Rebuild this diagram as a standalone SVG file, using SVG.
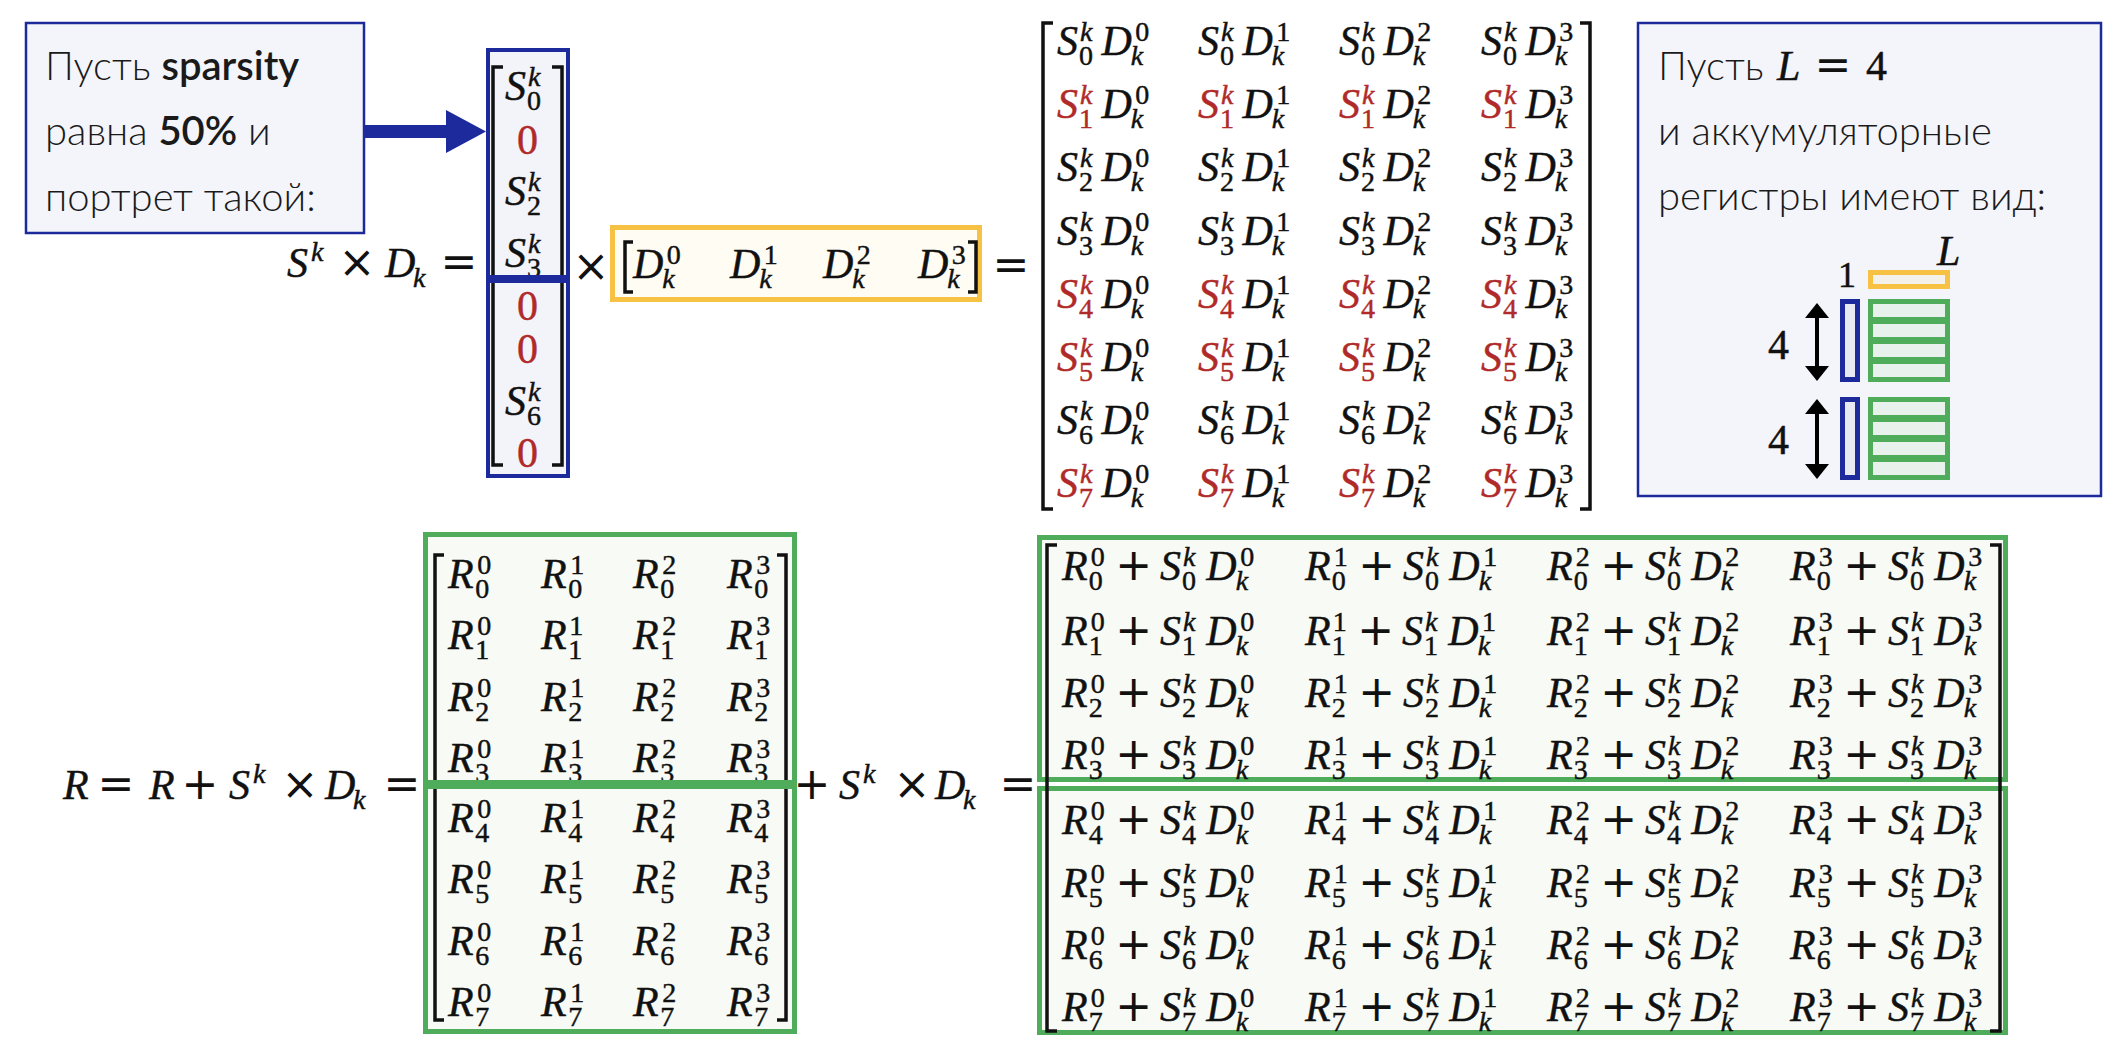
<svg xmlns="http://www.w3.org/2000/svg" width="2118" height="1052" viewBox="0 0 2118 1052">
<style>
.m{font-family:"Liberation Serif",serif;font-style:italic;font-size:42px;fill:#111;stroke:#111;stroke-width:0.45}
.s{font-size:28px;font-style:normal}
.k{font-style:italic}
.u{font-style:normal}
.op{font-family:"DejaVu Sans",sans-serif;font-style:normal;font-size:44px;stroke-width:0}
.c{text-anchor:middle}
.r{fill:#b02a2a;stroke:#b02a2a}
.b{fill:#111;stroke:#111}
.t{font-family:Lato,"Open Sans",sans-serif;font-size:40px;font-weight:300;fill:#1a1a1a}
.tb{font-weight:600}
.br{fill:none;stroke:#111;stroke-width:3.5}
.note{fill:#f4f5fa;stroke:#1d2a9b;stroke-width:2.5}
.blue{fill:#f3f3fa;stroke:#1d2a9b;stroke-width:4}
.yel{fill:#fffcf3;stroke:#f7c143;stroke-width:5}
.grn{fill:#f8fbf5;stroke:#4eac5b;stroke-width:5}
.cell{fill:#e9f1ec;stroke:none}
</style>
<rect width="2118" height="1052" fill="#fff"/>

<g id="note-left">
<rect class="note" x="26" y="23" width="338" height="210"/>
<text class="t" x="45" y="80">Пусть <tspan class="tb">sparsity</tspan></text>
<text class="t" x="45" y="145">равна <tspan class="tb">50%</tspan> и</text>
<text class="t" x="45" y="211">портрет такой:</text>
</g>

<g id="connectors">
<polygon points="365,125 446,125 446,110 486,131.5 446,153 446,138 365,138" fill="#1d2a9b"/>
</g>

<g id="eq-top" class="m">
<text y="277"><tspan x="287">S</tspan><tspan class="s k" x="311" dy="-16">k</tspan><tspan class="op c" x="357" dy="16">×</tspan><tspan x="385">D</tspan><tspan class="s k" x="413" dy="10">k</tspan><tspan class="op c" x="459" dy="-10">=</tspan></text>
<text class="op c" x="591" y="281">×</text>
<text class="op c" x="1011" y="280">=</text>
</g>

<g id="col-vector" class="m">
<rect class="blue" x="488" y="50" width="80" height="426"/>
<path class="br" d="M503,67 H493 V465 H503"/>
<path class="br" d="M552,67 H562 V465 H552"/>
<text x="505" y="100">S<tspan class="s" dx="1" dy="10">0</tspan><tspan class="s k" dx="-13" dy="-24">k</tspan></text>
<text class="r u" x="517" y="154">0</text>
<text x="505" y="205">S<tspan class="s" dx="1" dy="10">2</tspan><tspan class="s k" dx="-13" dy="-24">k</tspan></text>
<text x="505" y="267">S<tspan class="s" dx="1" dy="10">3</tspan><tspan class="s k" dx="-13" dy="-24">k</tspan></text>
<text class="r u" x="517" y="320">0</text>
<text class="r u" x="517" y="363">0</text>
<text x="505" y="415">S<tspan class="s" dx="1" dy="10">6</tspan><tspan class="s k" dx="-13" dy="-24">k</tspan></text>
<text class="r u" x="517" y="467">0</text>
<line x1="486" y1="279" x2="570" y2="279" stroke="#1d2a9b" stroke-width="8"/>
</g>

<g id="row-vector" class="m">
<rect class="yel" x="612.5" y="227.5" width="367" height="72"/>
<path class="br" d="M633,242 H625 V292 H633"/>
<path class="br" d="M968,242 H976 V292 H968"/>
<text x="633" y="278">D<tspan class="s k" dx="-1" dy="10">k</tspan><tspan class="s" dx="-8" dy="-24">0</tspan></text>
<text x="730" y="278">D<tspan class="s k" dx="-1" dy="10">k</tspan><tspan class="s" dx="-8" dy="-24">1</tspan></text>
<text x="823" y="278">D<tspan class="s k" dx="-1" dy="10">k</tspan><tspan class="s" dx="-8" dy="-24">2</tspan></text>
<text x="918" y="278">D<tspan class="s k" dx="-1" dy="10">k</tspan><tspan class="s" dx="-8" dy="-24">3</tspan></text>
</g>

<g id="product-matrix" class="m">
<path class="br" d="M1053,23 H1043 V509 H1053"/>
<path class="br" d="M1580,23 H1590 V509 H1580"/>
<text x="1057" y="55">S<tspan class="s" dx="1" dy="10">0</tspan><tspan class="s k" dx="-13" dy="-24">k</tspan><tspan dx="9" dy="14">D</tspan><tspan class="s k" dx="-1" dy="10">k</tspan><tspan class="s" dx="-8" dy="-24">0</tspan></text>
<text x="1198" y="55">S<tspan class="s" dx="1" dy="10">0</tspan><tspan class="s k" dx="-13" dy="-24">k</tspan><tspan dx="9" dy="14">D</tspan><tspan class="s k" dx="-1" dy="10">k</tspan><tspan class="s" dx="-8" dy="-24">1</tspan></text>
<text x="1339" y="55">S<tspan class="s" dx="1" dy="10">0</tspan><tspan class="s k" dx="-13" dy="-24">k</tspan><tspan dx="9" dy="14">D</tspan><tspan class="s k" dx="-1" dy="10">k</tspan><tspan class="s" dx="-8" dy="-24">2</tspan></text>
<text x="1481" y="55">S<tspan class="s" dx="1" dy="10">0</tspan><tspan class="s k" dx="-13" dy="-24">k</tspan><tspan dx="9" dy="14">D</tspan><tspan class="s k" dx="-1" dy="10">k</tspan><tspan class="s" dx="-8" dy="-24">3</tspan></text>

<text class="r" x="1057" y="118">S<tspan class="s" dx="1" dy="10">1</tspan><tspan class="s k" dx="-13" dy="-24">k</tspan><tspan class="b" dx="9" dy="14">D</tspan><tspan class="s k b" dx="-1" dy="10">k</tspan><tspan class="s b" dx="-8" dy="-24">0</tspan></text>
<text class="r" x="1198" y="118">S<tspan class="s" dx="1" dy="10">1</tspan><tspan class="s k" dx="-13" dy="-24">k</tspan><tspan class="b" dx="9" dy="14">D</tspan><tspan class="s k b" dx="-1" dy="10">k</tspan><tspan class="s b" dx="-8" dy="-24">1</tspan></text>
<text class="r" x="1339" y="118">S<tspan class="s" dx="1" dy="10">1</tspan><tspan class="s k" dx="-13" dy="-24">k</tspan><tspan class="b" dx="9" dy="14">D</tspan><tspan class="s k b" dx="-1" dy="10">k</tspan><tspan class="s b" dx="-8" dy="-24">2</tspan></text>
<text class="r" x="1481" y="118">S<tspan class="s" dx="1" dy="10">1</tspan><tspan class="s k" dx="-13" dy="-24">k</tspan><tspan class="b" dx="9" dy="14">D</tspan><tspan class="s k b" dx="-1" dy="10">k</tspan><tspan class="s b" dx="-8" dy="-24">3</tspan></text>

<text x="1057" y="181">S<tspan class="s" dx="1" dy="10">2</tspan><tspan class="s k" dx="-13" dy="-24">k</tspan><tspan dx="9" dy="14">D</tspan><tspan class="s k" dx="-1" dy="10">k</tspan><tspan class="s" dx="-8" dy="-24">0</tspan></text>
<text x="1198" y="181">S<tspan class="s" dx="1" dy="10">2</tspan><tspan class="s k" dx="-13" dy="-24">k</tspan><tspan dx="9" dy="14">D</tspan><tspan class="s k" dx="-1" dy="10">k</tspan><tspan class="s" dx="-8" dy="-24">1</tspan></text>
<text x="1339" y="181">S<tspan class="s" dx="1" dy="10">2</tspan><tspan class="s k" dx="-13" dy="-24">k</tspan><tspan dx="9" dy="14">D</tspan><tspan class="s k" dx="-1" dy="10">k</tspan><tspan class="s" dx="-8" dy="-24">2</tspan></text>
<text x="1481" y="181">S<tspan class="s" dx="1" dy="10">2</tspan><tspan class="s k" dx="-13" dy="-24">k</tspan><tspan dx="9" dy="14">D</tspan><tspan class="s k" dx="-1" dy="10">k</tspan><tspan class="s" dx="-8" dy="-24">3</tspan></text>

<text x="1057" y="245">S<tspan class="s" dx="1" dy="10">3</tspan><tspan class="s k" dx="-13" dy="-24">k</tspan><tspan dx="9" dy="14">D</tspan><tspan class="s k" dx="-1" dy="10">k</tspan><tspan class="s" dx="-8" dy="-24">0</tspan></text>
<text x="1198" y="245">S<tspan class="s" dx="1" dy="10">3</tspan><tspan class="s k" dx="-13" dy="-24">k</tspan><tspan dx="9" dy="14">D</tspan><tspan class="s k" dx="-1" dy="10">k</tspan><tspan class="s" dx="-8" dy="-24">1</tspan></text>
<text x="1339" y="245">S<tspan class="s" dx="1" dy="10">3</tspan><tspan class="s k" dx="-13" dy="-24">k</tspan><tspan dx="9" dy="14">D</tspan><tspan class="s k" dx="-1" dy="10">k</tspan><tspan class="s" dx="-8" dy="-24">2</tspan></text>
<text x="1481" y="245">S<tspan class="s" dx="1" dy="10">3</tspan><tspan class="s k" dx="-13" dy="-24">k</tspan><tspan dx="9" dy="14">D</tspan><tspan class="s k" dx="-1" dy="10">k</tspan><tspan class="s" dx="-8" dy="-24">3</tspan></text>

<text class="r" x="1057" y="308">S<tspan class="s" dx="1" dy="10">4</tspan><tspan class="s k" dx="-13" dy="-24">k</tspan><tspan class="b" dx="9" dy="14">D</tspan><tspan class="s k b" dx="-1" dy="10">k</tspan><tspan class="s b" dx="-8" dy="-24">0</tspan></text>
<text class="r" x="1198" y="308">S<tspan class="s" dx="1" dy="10">4</tspan><tspan class="s k" dx="-13" dy="-24">k</tspan><tspan class="b" dx="9" dy="14">D</tspan><tspan class="s k b" dx="-1" dy="10">k</tspan><tspan class="s b" dx="-8" dy="-24">1</tspan></text>
<text class="r" x="1339" y="308">S<tspan class="s" dx="1" dy="10">4</tspan><tspan class="s k" dx="-13" dy="-24">k</tspan><tspan class="b" dx="9" dy="14">D</tspan><tspan class="s k b" dx="-1" dy="10">k</tspan><tspan class="s b" dx="-8" dy="-24">2</tspan></text>
<text class="r" x="1481" y="308">S<tspan class="s" dx="1" dy="10">4</tspan><tspan class="s k" dx="-13" dy="-24">k</tspan><tspan class="b" dx="9" dy="14">D</tspan><tspan class="s k b" dx="-1" dy="10">k</tspan><tspan class="s b" dx="-8" dy="-24">3</tspan></text>

<text class="r" x="1057" y="371">S<tspan class="s" dx="1" dy="10">5</tspan><tspan class="s k" dx="-13" dy="-24">k</tspan><tspan class="b" dx="9" dy="14">D</tspan><tspan class="s k b" dx="-1" dy="10">k</tspan><tspan class="s b" dx="-8" dy="-24">0</tspan></text>
<text class="r" x="1198" y="371">S<tspan class="s" dx="1" dy="10">5</tspan><tspan class="s k" dx="-13" dy="-24">k</tspan><tspan class="b" dx="9" dy="14">D</tspan><tspan class="s k b" dx="-1" dy="10">k</tspan><tspan class="s b" dx="-8" dy="-24">1</tspan></text>
<text class="r" x="1339" y="371">S<tspan class="s" dx="1" dy="10">5</tspan><tspan class="s k" dx="-13" dy="-24">k</tspan><tspan class="b" dx="9" dy="14">D</tspan><tspan class="s k b" dx="-1" dy="10">k</tspan><tspan class="s b" dx="-8" dy="-24">2</tspan></text>
<text class="r" x="1481" y="371">S<tspan class="s" dx="1" dy="10">5</tspan><tspan class="s k" dx="-13" dy="-24">k</tspan><tspan class="b" dx="9" dy="14">D</tspan><tspan class="s k b" dx="-1" dy="10">k</tspan><tspan class="s b" dx="-8" dy="-24">3</tspan></text>

<text x="1057" y="434">S<tspan class="s" dx="1" dy="10">6</tspan><tspan class="s k" dx="-13" dy="-24">k</tspan><tspan dx="9" dy="14">D</tspan><tspan class="s k" dx="-1" dy="10">k</tspan><tspan class="s" dx="-8" dy="-24">0</tspan></text>
<text x="1198" y="434">S<tspan class="s" dx="1" dy="10">6</tspan><tspan class="s k" dx="-13" dy="-24">k</tspan><tspan dx="9" dy="14">D</tspan><tspan class="s k" dx="-1" dy="10">k</tspan><tspan class="s" dx="-8" dy="-24">1</tspan></text>
<text x="1339" y="434">S<tspan class="s" dx="1" dy="10">6</tspan><tspan class="s k" dx="-13" dy="-24">k</tspan><tspan dx="9" dy="14">D</tspan><tspan class="s k" dx="-1" dy="10">k</tspan><tspan class="s" dx="-8" dy="-24">2</tspan></text>
<text x="1481" y="434">S<tspan class="s" dx="1" dy="10">6</tspan><tspan class="s k" dx="-13" dy="-24">k</tspan><tspan dx="9" dy="14">D</tspan><tspan class="s k" dx="-1" dy="10">k</tspan><tspan class="s" dx="-8" dy="-24">3</tspan></text>

<text class="r" x="1057" y="497">S<tspan class="s" dx="1" dy="10">7</tspan><tspan class="s k" dx="-13" dy="-24">k</tspan><tspan class="b" dx="9" dy="14">D</tspan><tspan class="s k b" dx="-1" dy="10">k</tspan><tspan class="s b" dx="-8" dy="-24">0</tspan></text>
<text class="r" x="1198" y="497">S<tspan class="s" dx="1" dy="10">7</tspan><tspan class="s k" dx="-13" dy="-24">k</tspan><tspan class="b" dx="9" dy="14">D</tspan><tspan class="s k b" dx="-1" dy="10">k</tspan><tspan class="s b" dx="-8" dy="-24">1</tspan></text>
<text class="r" x="1339" y="497">S<tspan class="s" dx="1" dy="10">7</tspan><tspan class="s k" dx="-13" dy="-24">k</tspan><tspan class="b" dx="9" dy="14">D</tspan><tspan class="s k b" dx="-1" dy="10">k</tspan><tspan class="s b" dx="-8" dy="-24">2</tspan></text>
<text class="r" x="1481" y="497">S<tspan class="s" dx="1" dy="10">7</tspan><tspan class="s k" dx="-13" dy="-24">k</tspan><tspan class="b" dx="9" dy="14">D</tspan><tspan class="s k b" dx="-1" dy="10">k</tspan><tspan class="s b" dx="-8" dy="-24">3</tspan></text>
</g>

<g id="note-right">
<rect class="note" x="1638" y="23" width="463" height="473"/>
<text class="t" x="1658" y="80">Пусть</text>
<text class="m" y="80"><tspan x="1777">L</tspan><tspan class="op c" x="1833">=</tspan><tspan class="u" x="1866">4</tspan></text>
<text class="t" x="1658" y="145">и аккумуляторные</text>
<text class="t" x="1658" y="210">регистры имеют вид:</text>
</g>

<g id="registers" class="m">
<text x="1937" y="265">L</text>
<text class="u" x="1838" y="287" font-size="36">1</text>
<rect x="1870.5" y="272.5" width="77" height="14" fill="#f3f1ea" stroke="#f7c143" stroke-width="5"/>
<g id="reg-group-1">
<rect x="1842.5" y="301.5" width="15" height="78" fill="#e8e9f3" stroke="#1d2a9b" stroke-width="5"/>
<rect x="1868" y="299" width="82" height="83" fill="#4eac5b" stroke="none"/>
<rect class="cell" x="1873" y="304" width="72" height="13"/>
<rect class="cell" x="1873" y="324" width="72" height="13"/>
<rect class="cell" x="1873" y="344" width="72" height="13"/>
<rect class="cell" x="1873" y="364" width="72" height="13"/>
<line x1="1817" y1="316" x2="1817" y2="368" stroke="#000" stroke-width="4"/>
<polygon points="1805,318 1817,303 1829,318" fill="#000" stroke="none"/>
<polygon points="1805,366 1817,381 1829,366" fill="#000" stroke="none"/>
<text class="u" x="1768" y="359">4</text>
</g>
<g id="reg-group-2">
<rect x="1842.5" y="399.5" width="15" height="78" fill="#e8e9f3" stroke="#1d2a9b" stroke-width="5"/>
<rect x="1868" y="397" width="82" height="83" fill="#4eac5b" stroke="none"/>
<rect class="cell" x="1873" y="402" width="72" height="13"/>
<rect class="cell" x="1873" y="422" width="72" height="13"/>
<rect class="cell" x="1873" y="442" width="72" height="13"/>
<rect class="cell" x="1873" y="462" width="72" height="13"/>
<line x1="1817" y1="412" x2="1817" y2="466" stroke="#000" stroke-width="4"/>
<polygon points="1805,414 1817,399 1829,414" fill="#000" stroke="none"/>
<polygon points="1805,464 1817,479 1829,464" fill="#000" stroke="none"/>
<text class="u" x="1768" y="454">4</text>
</g>
</g>

<g id="eq-bottom" class="m">
<text y="799"><tspan x="63">R</tspan><tspan class="op c" x="116">=</tspan><tspan x="149">R</tspan><tspan class="op c" x="200">+</tspan><tspan x="229">S</tspan><tspan class="s k" x="253" dy="-16">k</tspan><tspan class="op c" x="300" dy="16">×</tspan><tspan x="325">D</tspan><tspan class="s k" x="353" dy="10">k</tspan><tspan class="op c" x="402" dy="-10">=</tspan></text>
<text y="799"><tspan class="op c" x="812">+</tspan><tspan x="839">S</tspan><tspan class="s k" x="863" dy="-16">k</tspan><tspan class="op c" x="912" dy="16">×</tspan><tspan x="935">D</tspan><tspan class="s k" x="963" dy="10">k</tspan><tspan class="op c" x="1018" dy="-10">=</tspan></text>
</g>

<g id="r-matrix" class="m">
<rect class="grn" x="425.5" y="534.5" width="369" height="497"/>
<path class="br" d="M444,555 H435 V1020 H444"/>
<path class="br" d="M777,555 H786 V1020 H777"/>
<text x="448" y="588">R<tspan class="s" dx="1.5" dy="10">0</tspan><tspan class="s" dx="-12" dy="-24">0</tspan></text>
<text x="541" y="588">R<tspan class="s" dx="1.5" dy="10">0</tspan><tspan class="s" dx="-12" dy="-24">1</tspan></text>
<text x="633" y="588">R<tspan class="s" dx="1.5" dy="10">0</tspan><tspan class="s" dx="-12" dy="-24">2</tspan></text>
<text x="727" y="588">R<tspan class="s" dx="1.5" dy="10">0</tspan><tspan class="s" dx="-12" dy="-24">3</tspan></text>
<text x="448" y="649">R<tspan class="s" dx="1.5" dy="10">1</tspan><tspan class="s" dx="-12" dy="-24">0</tspan></text>
<text x="541" y="649">R<tspan class="s" dx="1.5" dy="10">1</tspan><tspan class="s" dx="-12" dy="-24">1</tspan></text>
<text x="633" y="649">R<tspan class="s" dx="1.5" dy="10">1</tspan><tspan class="s" dx="-12" dy="-24">2</tspan></text>
<text x="727" y="649">R<tspan class="s" dx="1.5" dy="10">1</tspan><tspan class="s" dx="-12" dy="-24">3</tspan></text>
<text x="448" y="711">R<tspan class="s" dx="1.5" dy="10">2</tspan><tspan class="s" dx="-12" dy="-24">0</tspan></text>
<text x="541" y="711">R<tspan class="s" dx="1.5" dy="10">2</tspan><tspan class="s" dx="-12" dy="-24">1</tspan></text>
<text x="633" y="711">R<tspan class="s" dx="1.5" dy="10">2</tspan><tspan class="s" dx="-12" dy="-24">2</tspan></text>
<text x="727" y="711">R<tspan class="s" dx="1.5" dy="10">2</tspan><tspan class="s" dx="-12" dy="-24">3</tspan></text>
<text x="448" y="772">R<tspan class="s" dx="1.5" dy="10">3</tspan><tspan class="s" dx="-12" dy="-24">0</tspan></text>
<text x="541" y="772">R<tspan class="s" dx="1.5" dy="10">3</tspan><tspan class="s" dx="-12" dy="-24">1</tspan></text>
<text x="633" y="772">R<tspan class="s" dx="1.5" dy="10">3</tspan><tspan class="s" dx="-12" dy="-24">2</tspan></text>
<text x="727" y="772">R<tspan class="s" dx="1.5" dy="10">3</tspan><tspan class="s" dx="-12" dy="-24">3</tspan></text>
<text x="448" y="832">R<tspan class="s" dx="1.5" dy="10">4</tspan><tspan class="s" dx="-12" dy="-24">0</tspan></text>
<text x="541" y="832">R<tspan class="s" dx="1.5" dy="10">4</tspan><tspan class="s" dx="-12" dy="-24">1</tspan></text>
<text x="633" y="832">R<tspan class="s" dx="1.5" dy="10">4</tspan><tspan class="s" dx="-12" dy="-24">2</tspan></text>
<text x="727" y="832">R<tspan class="s" dx="1.5" dy="10">4</tspan><tspan class="s" dx="-12" dy="-24">3</tspan></text>
<text x="448" y="893">R<tspan class="s" dx="1.5" dy="10">5</tspan><tspan class="s" dx="-12" dy="-24">0</tspan></text>
<text x="541" y="893">R<tspan class="s" dx="1.5" dy="10">5</tspan><tspan class="s" dx="-12" dy="-24">1</tspan></text>
<text x="633" y="893">R<tspan class="s" dx="1.5" dy="10">5</tspan><tspan class="s" dx="-12" dy="-24">2</tspan></text>
<text x="727" y="893">R<tspan class="s" dx="1.5" dy="10">5</tspan><tspan class="s" dx="-12" dy="-24">3</tspan></text>
<text x="448" y="955">R<tspan class="s" dx="1.5" dy="10">6</tspan><tspan class="s" dx="-12" dy="-24">0</tspan></text>
<text x="541" y="955">R<tspan class="s" dx="1.5" dy="10">6</tspan><tspan class="s" dx="-12" dy="-24">1</tspan></text>
<text x="633" y="955">R<tspan class="s" dx="1.5" dy="10">6</tspan><tspan class="s" dx="-12" dy="-24">2</tspan></text>
<text x="727" y="955">R<tspan class="s" dx="1.5" dy="10">6</tspan><tspan class="s" dx="-12" dy="-24">3</tspan></text>
<text x="448" y="1016">R<tspan class="s" dx="1.5" dy="10">7</tspan><tspan class="s" dx="-12" dy="-24">0</tspan></text>
<text x="541" y="1016">R<tspan class="s" dx="1.5" dy="10">7</tspan><tspan class="s" dx="-12" dy="-24">1</tspan></text>
<text x="633" y="1016">R<tspan class="s" dx="1.5" dy="10">7</tspan><tspan class="s" dx="-12" dy="-24">2</tspan></text>
<text x="727" y="1016">R<tspan class="s" dx="1.5" dy="10">7</tspan><tspan class="s" dx="-12" dy="-24">3</tspan></text>
<line x1="423" y1="784.5" x2="797" y2="784.5" stroke="#4eac5b" stroke-width="9"/>
</g>

<g id="sum-matrix" class="m">
<rect class="grn" x="1039.5" y="537.5" width="966" height="242"/>
<rect class="grn" x="1039.5" y="788.5" width="966" height="244"/>
<path class="br" d="M1057,545 H1047 V1031 H1057"/>
<path class="br" d="M1990,545 H2000 V1031 H1990"/>
<text x="1062" y="580">R<tspan class="s" dx="1" dy="10">0</tspan><tspan class="s" dx="-12" dy="-24">0</tspan><tspan class="op" dx="10.6" dy="14">+</tspan><tspan dx="7.8">S</tspan><tspan class="s" dx="1" dy="10">0</tspan><tspan class="s k" dx="-13" dy="-24">k</tspan><tspan dx="11" dy="14">D</tspan><tspan class="s k" dx="-1" dy="10">k</tspan><tspan class="s" dx="-8" dy="-24">0</tspan></text>
<text x="1305" y="580">R<tspan class="s" dx="1" dy="10">0</tspan><tspan class="s" dx="-12" dy="-24">1</tspan><tspan class="op" dx="10.6" dy="14">+</tspan><tspan dx="7.8">S</tspan><tspan class="s" dx="1" dy="10">0</tspan><tspan class="s k" dx="-13" dy="-24">k</tspan><tspan dx="11" dy="14">D</tspan><tspan class="s k" dx="-1" dy="10">k</tspan><tspan class="s" dx="-8" dy="-24">1</tspan></text>
<text x="1547" y="580">R<tspan class="s" dx="1" dy="10">0</tspan><tspan class="s" dx="-12" dy="-24">2</tspan><tspan class="op" dx="10.6" dy="14">+</tspan><tspan dx="7.8">S</tspan><tspan class="s" dx="1" dy="10">0</tspan><tspan class="s k" dx="-13" dy="-24">k</tspan><tspan dx="11" dy="14">D</tspan><tspan class="s k" dx="-1" dy="10">k</tspan><tspan class="s" dx="-8" dy="-24">2</tspan></text>
<text x="1790" y="580">R<tspan class="s" dx="1" dy="10">0</tspan><tspan class="s" dx="-12" dy="-24">3</tspan><tspan class="op" dx="10.6" dy="14">+</tspan><tspan dx="7.8">S</tspan><tspan class="s" dx="1" dy="10">0</tspan><tspan class="s k" dx="-13" dy="-24">k</tspan><tspan dx="11" dy="14">D</tspan><tspan class="s k" dx="-1" dy="10">k</tspan><tspan class="s" dx="-8" dy="-24">3</tspan></text>

<text x="1062" y="645">R<tspan class="s" dx="1" dy="10">1</tspan><tspan class="s" dx="-12" dy="-24">0</tspan><tspan class="op" dx="10.6" dy="14">+</tspan><tspan dx="7.8">S</tspan><tspan class="s" dx="1" dy="10">1</tspan><tspan class="s k" dx="-13" dy="-24">k</tspan><tspan dx="11" dy="14">D</tspan><tspan class="s k" dx="-1" dy="10">k</tspan><tspan class="s" dx="-8" dy="-24">0</tspan></text>
<text x="1305" y="645">R<tspan class="s" dx="1" dy="10">1</tspan><tspan class="s" dx="-12" dy="-24">1</tspan><tspan class="op" dx="10.6" dy="14">+</tspan><tspan dx="7.8">S</tspan><tspan class="s" dx="1" dy="10">1</tspan><tspan class="s k" dx="-13" dy="-24">k</tspan><tspan dx="11" dy="14">D</tspan><tspan class="s k" dx="-1" dy="10">k</tspan><tspan class="s" dx="-8" dy="-24">1</tspan></text>
<text x="1547" y="645">R<tspan class="s" dx="1" dy="10">1</tspan><tspan class="s" dx="-12" dy="-24">2</tspan><tspan class="op" dx="10.6" dy="14">+</tspan><tspan dx="7.8">S</tspan><tspan class="s" dx="1" dy="10">1</tspan><tspan class="s k" dx="-13" dy="-24">k</tspan><tspan dx="11" dy="14">D</tspan><tspan class="s k" dx="-1" dy="10">k</tspan><tspan class="s" dx="-8" dy="-24">2</tspan></text>
<text x="1790" y="645">R<tspan class="s" dx="1" dy="10">1</tspan><tspan class="s" dx="-12" dy="-24">3</tspan><tspan class="op" dx="10.6" dy="14">+</tspan><tspan dx="7.8">S</tspan><tspan class="s" dx="1" dy="10">1</tspan><tspan class="s k" dx="-13" dy="-24">k</tspan><tspan dx="11" dy="14">D</tspan><tspan class="s k" dx="-1" dy="10">k</tspan><tspan class="s" dx="-8" dy="-24">3</tspan></text>

<text x="1062" y="707">R<tspan class="s" dx="1" dy="10">2</tspan><tspan class="s" dx="-12" dy="-24">0</tspan><tspan class="op" dx="10.6" dy="14">+</tspan><tspan dx="7.8">S</tspan><tspan class="s" dx="1" dy="10">2</tspan><tspan class="s k" dx="-13" dy="-24">k</tspan><tspan dx="11" dy="14">D</tspan><tspan class="s k" dx="-1" dy="10">k</tspan><tspan class="s" dx="-8" dy="-24">0</tspan></text>
<text x="1305" y="707">R<tspan class="s" dx="1" dy="10">2</tspan><tspan class="s" dx="-12" dy="-24">1</tspan><tspan class="op" dx="10.6" dy="14">+</tspan><tspan dx="7.8">S</tspan><tspan class="s" dx="1" dy="10">2</tspan><tspan class="s k" dx="-13" dy="-24">k</tspan><tspan dx="11" dy="14">D</tspan><tspan class="s k" dx="-1" dy="10">k</tspan><tspan class="s" dx="-8" dy="-24">1</tspan></text>
<text x="1547" y="707">R<tspan class="s" dx="1" dy="10">2</tspan><tspan class="s" dx="-12" dy="-24">2</tspan><tspan class="op" dx="10.6" dy="14">+</tspan><tspan dx="7.8">S</tspan><tspan class="s" dx="1" dy="10">2</tspan><tspan class="s k" dx="-13" dy="-24">k</tspan><tspan dx="11" dy="14">D</tspan><tspan class="s k" dx="-1" dy="10">k</tspan><tspan class="s" dx="-8" dy="-24">2</tspan></text>
<text x="1790" y="707">R<tspan class="s" dx="1" dy="10">2</tspan><tspan class="s" dx="-12" dy="-24">3</tspan><tspan class="op" dx="10.6" dy="14">+</tspan><tspan dx="7.8">S</tspan><tspan class="s" dx="1" dy="10">2</tspan><tspan class="s k" dx="-13" dy="-24">k</tspan><tspan dx="11" dy="14">D</tspan><tspan class="s k" dx="-1" dy="10">k</tspan><tspan class="s" dx="-8" dy="-24">3</tspan></text>

<text x="1062" y="769">R<tspan class="s" dx="1" dy="10">3</tspan><tspan class="s" dx="-12" dy="-24">0</tspan><tspan class="op" dx="10.6" dy="14">+</tspan><tspan dx="7.8">S</tspan><tspan class="s" dx="1" dy="10">3</tspan><tspan class="s k" dx="-13" dy="-24">k</tspan><tspan dx="11" dy="14">D</tspan><tspan class="s k" dx="-1" dy="10">k</tspan><tspan class="s" dx="-8" dy="-24">0</tspan></text>
<text x="1305" y="769">R<tspan class="s" dx="1" dy="10">3</tspan><tspan class="s" dx="-12" dy="-24">1</tspan><tspan class="op" dx="10.6" dy="14">+</tspan><tspan dx="7.8">S</tspan><tspan class="s" dx="1" dy="10">3</tspan><tspan class="s k" dx="-13" dy="-24">k</tspan><tspan dx="11" dy="14">D</tspan><tspan class="s k" dx="-1" dy="10">k</tspan><tspan class="s" dx="-8" dy="-24">1</tspan></text>
<text x="1547" y="769">R<tspan class="s" dx="1" dy="10">3</tspan><tspan class="s" dx="-12" dy="-24">2</tspan><tspan class="op" dx="10.6" dy="14">+</tspan><tspan dx="7.8">S</tspan><tspan class="s" dx="1" dy="10">3</tspan><tspan class="s k" dx="-13" dy="-24">k</tspan><tspan dx="11" dy="14">D</tspan><tspan class="s k" dx="-1" dy="10">k</tspan><tspan class="s" dx="-8" dy="-24">2</tspan></text>
<text x="1790" y="769">R<tspan class="s" dx="1" dy="10">3</tspan><tspan class="s" dx="-12" dy="-24">3</tspan><tspan class="op" dx="10.6" dy="14">+</tspan><tspan dx="7.8">S</tspan><tspan class="s" dx="1" dy="10">3</tspan><tspan class="s k" dx="-13" dy="-24">k</tspan><tspan dx="11" dy="14">D</tspan><tspan class="s k" dx="-1" dy="10">k</tspan><tspan class="s" dx="-8" dy="-24">3</tspan></text>

<text x="1062" y="834">R<tspan class="s" dx="1" dy="10">4</tspan><tspan class="s" dx="-12" dy="-24">0</tspan><tspan class="op" dx="10.6" dy="14">+</tspan><tspan dx="7.8">S</tspan><tspan class="s" dx="1" dy="10">4</tspan><tspan class="s k" dx="-13" dy="-24">k</tspan><tspan dx="11" dy="14">D</tspan><tspan class="s k" dx="-1" dy="10">k</tspan><tspan class="s" dx="-8" dy="-24">0</tspan></text>
<text x="1305" y="834">R<tspan class="s" dx="1" dy="10">4</tspan><tspan class="s" dx="-12" dy="-24">1</tspan><tspan class="op" dx="10.6" dy="14">+</tspan><tspan dx="7.8">S</tspan><tspan class="s" dx="1" dy="10">4</tspan><tspan class="s k" dx="-13" dy="-24">k</tspan><tspan dx="11" dy="14">D</tspan><tspan class="s k" dx="-1" dy="10">k</tspan><tspan class="s" dx="-8" dy="-24">1</tspan></text>
<text x="1547" y="834">R<tspan class="s" dx="1" dy="10">4</tspan><tspan class="s" dx="-12" dy="-24">2</tspan><tspan class="op" dx="10.6" dy="14">+</tspan><tspan dx="7.8">S</tspan><tspan class="s" dx="1" dy="10">4</tspan><tspan class="s k" dx="-13" dy="-24">k</tspan><tspan dx="11" dy="14">D</tspan><tspan class="s k" dx="-1" dy="10">k</tspan><tspan class="s" dx="-8" dy="-24">2</tspan></text>
<text x="1790" y="834">R<tspan class="s" dx="1" dy="10">4</tspan><tspan class="s" dx="-12" dy="-24">3</tspan><tspan class="op" dx="10.6" dy="14">+</tspan><tspan dx="7.8">S</tspan><tspan class="s" dx="1" dy="10">4</tspan><tspan class="s k" dx="-13" dy="-24">k</tspan><tspan dx="11" dy="14">D</tspan><tspan class="s k" dx="-1" dy="10">k</tspan><tspan class="s" dx="-8" dy="-24">3</tspan></text>

<text x="1062" y="897">R<tspan class="s" dx="1" dy="10">5</tspan><tspan class="s" dx="-12" dy="-24">0</tspan><tspan class="op" dx="10.6" dy="14">+</tspan><tspan dx="7.8">S</tspan><tspan class="s" dx="1" dy="10">5</tspan><tspan class="s k" dx="-13" dy="-24">k</tspan><tspan dx="11" dy="14">D</tspan><tspan class="s k" dx="-1" dy="10">k</tspan><tspan class="s" dx="-8" dy="-24">0</tspan></text>
<text x="1305" y="897">R<tspan class="s" dx="1" dy="10">5</tspan><tspan class="s" dx="-12" dy="-24">1</tspan><tspan class="op" dx="10.6" dy="14">+</tspan><tspan dx="7.8">S</tspan><tspan class="s" dx="1" dy="10">5</tspan><tspan class="s k" dx="-13" dy="-24">k</tspan><tspan dx="11" dy="14">D</tspan><tspan class="s k" dx="-1" dy="10">k</tspan><tspan class="s" dx="-8" dy="-24">1</tspan></text>
<text x="1547" y="897">R<tspan class="s" dx="1" dy="10">5</tspan><tspan class="s" dx="-12" dy="-24">2</tspan><tspan class="op" dx="10.6" dy="14">+</tspan><tspan dx="7.8">S</tspan><tspan class="s" dx="1" dy="10">5</tspan><tspan class="s k" dx="-13" dy="-24">k</tspan><tspan dx="11" dy="14">D</tspan><tspan class="s k" dx="-1" dy="10">k</tspan><tspan class="s" dx="-8" dy="-24">2</tspan></text>
<text x="1790" y="897">R<tspan class="s" dx="1" dy="10">5</tspan><tspan class="s" dx="-12" dy="-24">3</tspan><tspan class="op" dx="10.6" dy="14">+</tspan><tspan dx="7.8">S</tspan><tspan class="s" dx="1" dy="10">5</tspan><tspan class="s k" dx="-13" dy="-24">k</tspan><tspan dx="11" dy="14">D</tspan><tspan class="s k" dx="-1" dy="10">k</tspan><tspan class="s" dx="-8" dy="-24">3</tspan></text>

<text x="1062" y="959">R<tspan class="s" dx="1" dy="10">6</tspan><tspan class="s" dx="-12" dy="-24">0</tspan><tspan class="op" dx="10.6" dy="14">+</tspan><tspan dx="7.8">S</tspan><tspan class="s" dx="1" dy="10">6</tspan><tspan class="s k" dx="-13" dy="-24">k</tspan><tspan dx="11" dy="14">D</tspan><tspan class="s k" dx="-1" dy="10">k</tspan><tspan class="s" dx="-8" dy="-24">0</tspan></text>
<text x="1305" y="959">R<tspan class="s" dx="1" dy="10">6</tspan><tspan class="s" dx="-12" dy="-24">1</tspan><tspan class="op" dx="10.6" dy="14">+</tspan><tspan dx="7.8">S</tspan><tspan class="s" dx="1" dy="10">6</tspan><tspan class="s k" dx="-13" dy="-24">k</tspan><tspan dx="11" dy="14">D</tspan><tspan class="s k" dx="-1" dy="10">k</tspan><tspan class="s" dx="-8" dy="-24">1</tspan></text>
<text x="1547" y="959">R<tspan class="s" dx="1" dy="10">6</tspan><tspan class="s" dx="-12" dy="-24">2</tspan><tspan class="op" dx="10.6" dy="14">+</tspan><tspan dx="7.8">S</tspan><tspan class="s" dx="1" dy="10">6</tspan><tspan class="s k" dx="-13" dy="-24">k</tspan><tspan dx="11" dy="14">D</tspan><tspan class="s k" dx="-1" dy="10">k</tspan><tspan class="s" dx="-8" dy="-24">2</tspan></text>
<text x="1790" y="959">R<tspan class="s" dx="1" dy="10">6</tspan><tspan class="s" dx="-12" dy="-24">3</tspan><tspan class="op" dx="10.6" dy="14">+</tspan><tspan dx="7.8">S</tspan><tspan class="s" dx="1" dy="10">6</tspan><tspan class="s k" dx="-13" dy="-24">k</tspan><tspan dx="11" dy="14">D</tspan><tspan class="s k" dx="-1" dy="10">k</tspan><tspan class="s" dx="-8" dy="-24">3</tspan></text>

<text x="1062" y="1021">R<tspan class="s" dx="1" dy="10">7</tspan><tspan class="s" dx="-12" dy="-24">0</tspan><tspan class="op" dx="10.6" dy="14">+</tspan><tspan dx="7.8">S</tspan><tspan class="s" dx="1" dy="10">7</tspan><tspan class="s k" dx="-13" dy="-24">k</tspan><tspan dx="11" dy="14">D</tspan><tspan class="s k" dx="-1" dy="10">k</tspan><tspan class="s" dx="-8" dy="-24">0</tspan></text>
<text x="1305" y="1021">R<tspan class="s" dx="1" dy="10">7</tspan><tspan class="s" dx="-12" dy="-24">1</tspan><tspan class="op" dx="10.6" dy="14">+</tspan><tspan dx="7.8">S</tspan><tspan class="s" dx="1" dy="10">7</tspan><tspan class="s k" dx="-13" dy="-24">k</tspan><tspan dx="11" dy="14">D</tspan><tspan class="s k" dx="-1" dy="10">k</tspan><tspan class="s" dx="-8" dy="-24">1</tspan></text>
<text x="1547" y="1021">R<tspan class="s" dx="1" dy="10">7</tspan><tspan class="s" dx="-12" dy="-24">2</tspan><tspan class="op" dx="10.6" dy="14">+</tspan><tspan dx="7.8">S</tspan><tspan class="s" dx="1" dy="10">7</tspan><tspan class="s k" dx="-13" dy="-24">k</tspan><tspan dx="11" dy="14">D</tspan><tspan class="s k" dx="-1" dy="10">k</tspan><tspan class="s" dx="-8" dy="-24">2</tspan></text>
<text x="1790" y="1021">R<tspan class="s" dx="1" dy="10">7</tspan><tspan class="s" dx="-12" dy="-24">3</tspan><tspan class="op" dx="10.6" dy="14">+</tspan><tspan dx="7.8">S</tspan><tspan class="s" dx="1" dy="10">7</tspan><tspan class="s k" dx="-13" dy="-24">k</tspan><tspan dx="11" dy="14">D</tspan><tspan class="s k" dx="-1" dy="10">k</tspan><tspan class="s" dx="-8" dy="-24">3</tspan></text>
</g>
</svg>
